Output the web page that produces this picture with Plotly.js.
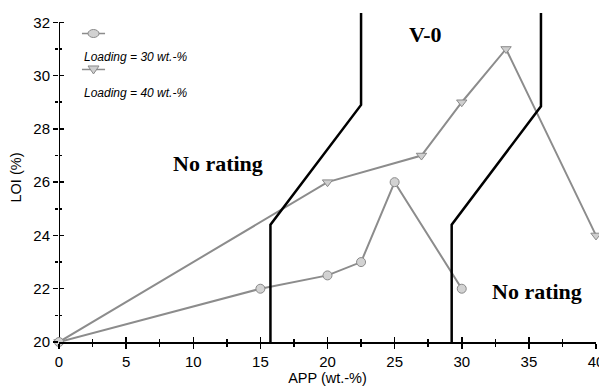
<!DOCTYPE html>
<html>
<head>
<meta charset="utf-8">
<script src="https://cdn.plot.ly/plotly-3.0.1.min.js"></script>
<style>html,body{margin:0;padding:0;background:#fff;}#chart{width:599px;height:386px;}</style>
</head>
<body>
<div id="chart"></div>
<script>
// Series: Loading = 30 wt.-%
var app30 = [0, 15, 20, 22.5, 25, 30];
var loi30 = [20, 22, 22.5, 23, 26, 22];
// Series: Loading = 40 wt.-%
var app40 = [0, 20, 27, 30, 33.3, 40];
var loi40 = [20, 26, 27, 29, 31, 24];
// Rating boundaries
var leftBoundX = [15.75, 15.75, 22.5, 22.5];
var leftBoundY = [20, 24.4, 28.9, 32.4];
var rightBoundX = [29.25, 29.25, 35.9, 35.9];
var rightBoundY = [20, 24.4, 28.85, 32.4];
// Labels
var name30 = 'Loading = 30 wt.-%';
var name40 = 'Loading = 40 wt.-%';
var xTitle = 'APP (wt.-%)';
var yTitle = 'LOI (%)';

var grayLine = '#8c8c8c';

var traces = [
  {x: leftBoundX, y: leftBoundY, mode: 'lines', line: {color: '#000', width: 2.5}, xaxis: 'x2', yaxis: 'y2', showlegend: false, hoverinfo: 'skip'},
  {x: rightBoundX, y: rightBoundY, mode: 'lines', line: {color: '#000', width: 2.5}, xaxis: 'x2', yaxis: 'y2', showlegend: false, hoverinfo: 'skip'},
  {x: app40, y: loi40, name: name40, mode: 'lines+markers', cliponaxis: false,
   line: {color: grayLine, width: 2},
   marker: {symbol: 'triangle-down', size: 9, color: '#cfcfcf', line: {color: '#8a8a8a', width: 1}}},
  {x: app30, y: loi30, name: name30, mode: 'lines+markers', cliponaxis: false,
   line: {color: grayLine, width: 2},
   marker: {symbol: 'circle', size: 9, color: '#d2d2d2', line: {color: '#8a8a8a', width: 1}}}
];

var tickFont = {family: 'Liberation Sans, Arial, sans-serif', size: 15, color: '#000'};
var serifBold = {family: 'Liberation Serif, Times New Roman, serif', size: 22, color: '#000'};
var legFont = {family: 'Liberation Sans, Arial, sans-serif', size: 12, color: '#000'};

var layout = {
  width: 599, height: 386,
  margin: {l: 59, r: 3, t: 13, b: 44},
  paper_bgcolor: '#fff', plot_bgcolor: '#fff',
  showlegend: false,
  xaxis: {range: [0, 40], dtick: 5, tick0: 0, ticks: 'outside', ticklen: 5, tickwidth: 1.5, tickcolor: '#000',
          minor: {dtick: 2.5, ticks: 'outside', ticklen: 3, tickwidth: 1.5, tickcolor: '#000'},
          showline: true, linewidth: 2, linecolor: '#000', showgrid: false, zeroline: false,
          tickfont: tickFont, ticklabeloverflow: 'allow',
          title: {text: xTitle, font: {family: 'Liberation Sans, Arial, sans-serif', size: 14.5, color: '#000'}, standoff: 6}},
  yaxis: {range: [20, 32.35], dtick: 2, tick0: 20, ticks: 'outside', ticklen: 5, tickwidth: 1.5, tickcolor: '#000',
          minor: {dtick: 1, ticks: 'outside', ticklen: 3, tickwidth: 1.5, tickcolor: '#000'},
          showline: false, showgrid: false, zeroline: false,
          tickfont: tickFont, ticklabeloverflow: 'allow',
          title: {text: yTitle, font: {family: 'Liberation Sans, Arial, sans-serif', size: 14.5, color: '#000'}, standoff: 8}},
  xaxis2: {overlaying: 'x', matches: 'x', anchor: 'y2', ticks: 'inside', ticklen: 5, tickwidth: 1.5, tickcolor: '#000', dtick: 5, tick0: 0,
           minor: {dtick: 2.5, ticks: 'inside', ticklen: 3, tickwidth: 1.5, tickcolor: '#000'},
           showticklabels: false, showline: false, showgrid: false, zeroline: false},
  yaxis2: {overlaying: 'y', matches: 'y', anchor: 'x2', ticks: 'inside', ticklen: 5, tickwidth: 1.5, tickcolor: '#000', dtick: 2, tick0: 20,
           minor: {dtick: 1, ticks: 'inside', ticklen: 3, tickwidth: 1.5, tickcolor: '#000'},
           showticklabels: false, showline: false, showgrid: false, zeroline: false},
  shapes: [
    // y axis line (stops at 32)
    {type: 'line', xref: 'x', yref: 'y', x0: 0, x1: 0, y0: 20, y1: 32, line: {color: '#000', width: 2}, layer: 'below'},
    // legend sample 1
    {type: 'line', xref: 'x', yref: 'y', x0: 1.71, x1: 3.43, y0: 31.58, y1: 31.58, line: {color: grayLine, width: 1.5}},
    {type: 'circle', xref: 'x', yref: 'y', xsizemode: 'pixel', ysizemode: 'pixel', xanchor: 2.57, yanchor: 31.58,
     x0: -5.5, x1: 5.5, y0: -4, y1: 4, fillcolor: '#d2d2d2', line: {color: '#8a8a8a', width: 1}},
    // legend sample 2
    {type: 'line', xref: 'x', yref: 'y', x0: 1.71, x1: 3.43, y0: 30.23, y1: 30.23, line: {color: grayLine, width: 1.5}},
    {type: 'path', xref: 'x', yref: 'y', xsizemode: 'pixel', ysizemode: 'pixel', xanchor: 2.57, yanchor: 30.23,
     path: 'M -5.5,3.5 L 5.5,3.5 L 0,-4.5 Z', fillcolor: '#cfcfcf', line: {color: '#8a8a8a', width: 1}}
  ],
  annotations: [
    {x: 11.84, y: 26.69, xref: 'x', yref: 'y', text: '<b>No rating</b>', showarrow: false, font: serifBold},
    {x: 35.6, y: 21.88, xref: 'x', yref: 'y', text: '<b>No rating</b>', showarrow: false, font: serifBold},
    {x: 27.3, y: 31.54, xref: 'x', yref: 'y', text: '<b>V-0</b>', showarrow: false, font: serifBold},
    {x: 1.71, y: 30.7, xref: 'x', yref: 'y', xanchor: 'left', text: '<i>' + name30 + '</i>', showarrow: false, font: legFont},
    {x: 1.71, y: 29.35, xref: 'x', yref: 'y', xanchor: 'left', text: '<i>' + name40 + '</i>', showarrow: false, font: legFont}
  ]
};

Plotly.newPlot('chart', traces, layout, {displayModeBar: false, staticPlot: true});
</script>
</body>
</html>
